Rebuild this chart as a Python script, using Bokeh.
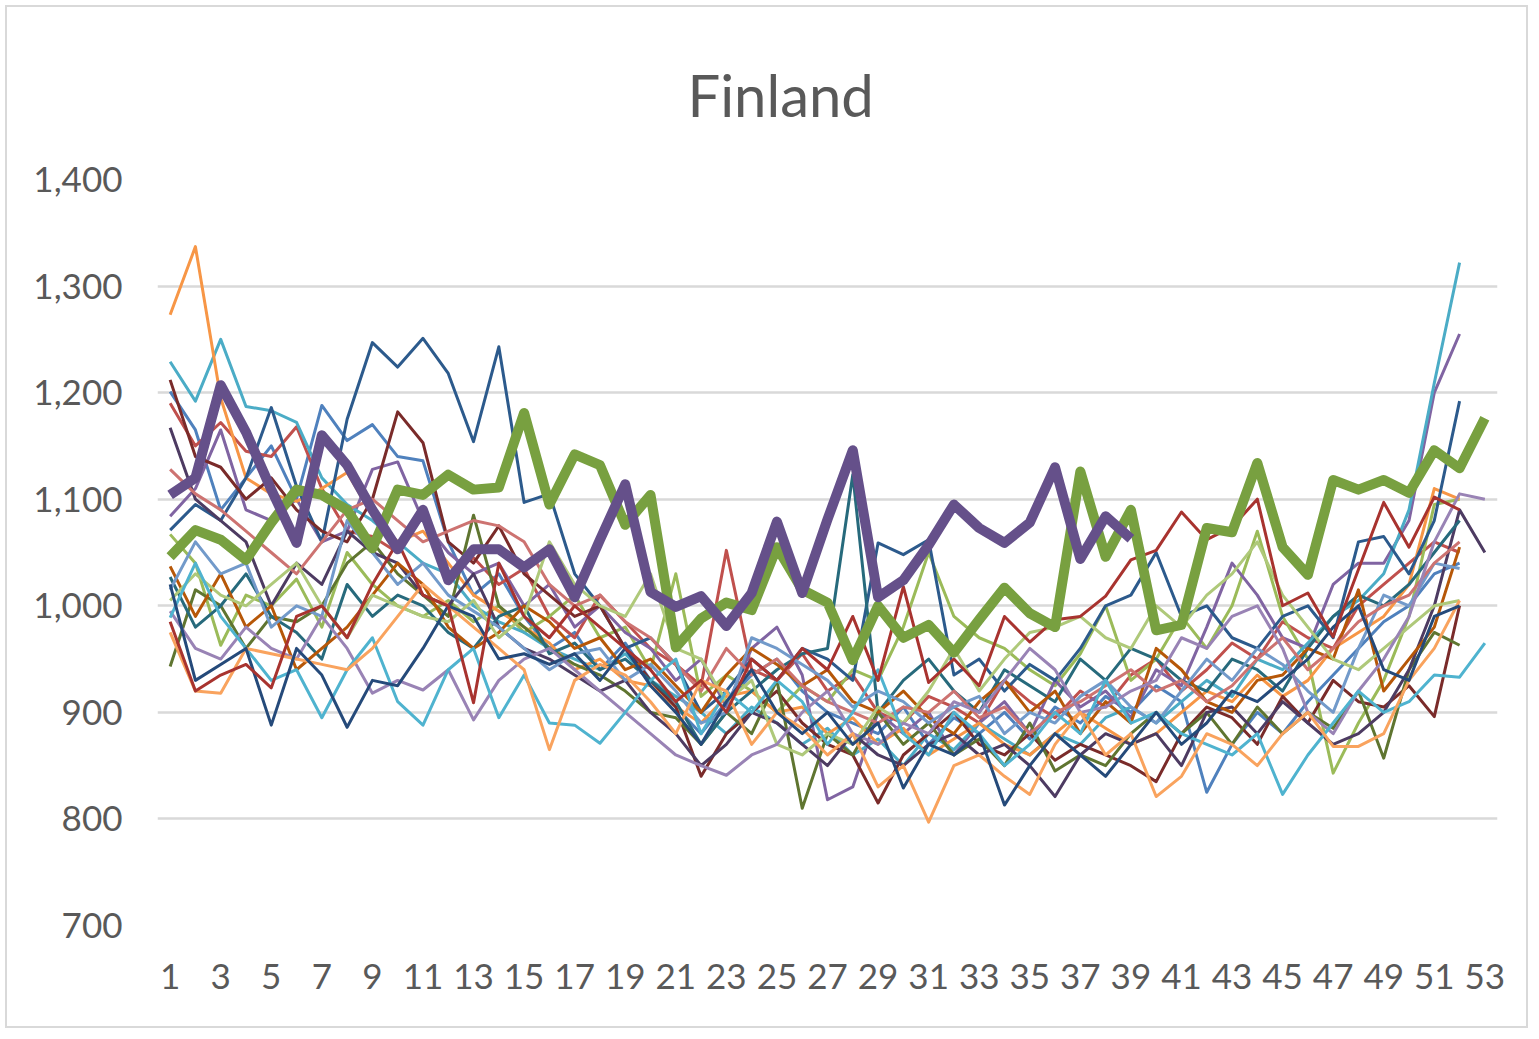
from bokeh.plotting import figure
from bokeh.models import Range1d, FixedTicker, NumeralTickFormatter, ColumnDataSource
from bokeh.embed import file_html
from bokeh.resources import INLINE

title_text = "Finland"
y_ticks = [700, 800, 900, 1000, 1100, 1200, 1300, 1400]
x_ticks = list(range(1, 54, 2))

# Thin lines: one per year (weekly deaths)
s01 = [1201, 1165, 1090, 1120, 1150, 1100, 1188, 1155, 1170, 1140, 1136, 1060, 1010,
       1030, 990, 960, 975, 940, 965, 930, 905, 880, 910, 935, 950, 920,
       900, 890, 880, 905, 870, 895, 880, 900, 875, 905, 890, 915, 900,
       925, 910, 825, 870, 900, 880, 910, 935, 960, 985, 1000, 1030, 1040]
s02 = [1190, 1150, 1172, 1145, 1140, 1168, 1110, 1070, 1065, 1050, 1090, 1030, 1045,
       1020, 1035, 990, 970, 1010, 985, 960, 945, 925, 1052, 940, 930, 955,
       920, 935, 900, 890, 915, 905, 890, 930, 910, 895, 920, 905, 935,
       950, 920, 940, 965, 950, 985, 970, 960, 1000, 1020, 1040, 1060, 1050]
s03 = [1067, 1040, 963, 1010, 1000, 1025, 980, 1050, 1020, 1000, 990, 1005, 985,
       1000, 975, 990, 1010, 970, 980, 940, 1030, 915, 935, 920, 900, 925,
       910, 940, 930, 980, 1050, 990, 970, 960, 940, 925, 955, 1000, 930,
       950, 990, 960, 1000, 1070, 990, 950, 843, 890, 930, 990, 1095, 1100]
s04 = [1084, 1110, 1165, 1090, 1080, 1100, 1060, 1070, 1128, 1135, 1080, 1050, 1030,
       1040, 1000, 1020, 980, 1000, 975, 960, 930, 950, 905, 960, 980, 935,
       818, 830, 900, 880, 900, 860, 890, 910, 880, 930, 905, 920, 895,
       940, 925, 980, 1040, 1010, 970, 960, 1020, 1040, 1040, 1080, 1200, 1255]
s05 = [1229, 1192, 1250, 1187, 1183, 1172, 1120, 1095, 1080, 1060, 1040, 1030, 1000,
       985, 975, 960, 950, 940, 955, 930, 915, 900, 880, 905, 890, 870,
       885, 860, 875, 850, 880, 865, 890, 875, 860, 880, 870, 895, 905,
       890, 910, 930, 915, 950, 940, 965, 990, 1005, 1030, 1090, 1209, 1322]
s06 = [1273, 1337, 1195, 1120, 1105, 1098, 1110, 1125, 1085, 1060, 1070, 1040, 1010,
       995, 980, 965, 940, 950, 930, 925, 905, 890, 915, 920, 900, 905,
       880, 895, 870, 885, 860, 875, 890, 870, 860, 880, 900, 885, 870,
       880, 900, 920, 910, 935, 915, 930, 960, 975, 990, 1020, 1110, 1100]
s07 = [1071, 1095, 1080, 1120, 1186, 1112, 1060, 1175, 1247, 1224, 1251, 1218, 1154,
       1243, 1097, 1105, 1030, 1000, 960, 970, 945, 900, 920, 950, 930, 960,
       950, 930, 1059, 1048, 1062, 935, 950, 920, 945, 930, 960, 1000, 1010,
       1050, 990, 1000, 970, 960, 990, 1000, 970, 1060, 1065, 1030, 1080, 1192]
s08 = [1212, 1140, 1130, 1100, 1120, 1090, 1070, 1060, 1100, 1182, 1153, 1060, 1040,
       1075, 1030, 1010, 990, 1000, 960, 930, 905, 840, 880, 900, 920, 890,
       870, 860, 815, 860, 880, 900, 870, 860, 880, 855, 870, 860, 850,
       835, 880, 905, 895, 870, 915, 890, 930, 910, 905, 925, 896, 1000]
s09 = [943, 1015, 1000, 960, 990, 985, 1000, 1040, 1060, 1030, 1010, 990, 1085,
       1000, 980, 960, 945, 935, 920, 900, 895, 870, 900, 880, 930, 810,
       880, 860, 900, 870, 890, 860, 875, 850, 890, 845, 860, 850, 880,
       900, 880, 900, 870, 905, 880, 900, 885, 920, 857, 940, 975, 963]
s10 = [1167, 1100, 1080, 1060, 1000, 1040, 1020, 1070, 1050, 1040, 1010, 1000, 1030,
       980, 960, 950, 935, 920, 930, 900, 880, 850, 870, 900, 890, 870,
       850, 880, 860, 850, 870, 880, 860, 870, 850, 821, 860, 880, 870,
       880, 850, 900, 905, 880, 910, 890, 870, 880, 900, 940, 1000, 1090, 1050]
s11 = [1027, 980, 1000, 1030, 990, 975, 950, 1020, 990, 1010, 1000, 975, 960,
       990, 1000, 955, 965, 940, 950, 930, 910, 870, 900, 920, 940, 955,
       960, 1123, 900, 930, 950, 920, 900, 940, 925, 910, 950, 930, 960,
       950, 930, 920, 950, 940, 920, 960, 990, 1010, 1000, 1020, 1050, 1080]
s12 = [1037, 990, 1030, 980, 1000, 940, 960, 980, 1010, 1040, 1020, 980, 960,
       975, 1000, 985, 960, 970, 940, 950, 925, 900, 935, 960, 945, 925,
       940, 910, 900, 920, 895, 880, 910, 930, 900, 920, 880, 910, 890,
       960, 940, 910, 900, 930, 935, 960, 950, 1015, 920, 950, 980, 1055]
s13 = [1015, 1060, 1030, 1040, 980, 1000, 990, 1080, 1050, 1020, 1040, 1010, 995,
       980, 960, 940, 955, 960, 930, 945, 920, 890, 900, 970, 960, 945,
       930, 905, 920, 910, 890, 905, 915, 880, 900, 890, 915, 930, 905,
       890, 920, 950, 930, 960, 945, 920, 900, 960, 1010, 1000, 1040, 1035]
s14 = [1128, 1105, 1090, 1070, 1050, 1030, 1060, 1090, 1100, 1080, 1060, 1070, 1080,
       1075, 1060, 1020, 1000, 1010, 985, 970, 945, 920, 960, 935, 950, 925,
       910, 900, 890, 905, 900, 920, 895, 905, 880, 900, 910, 925, 940,
       920, 930, 910, 925, 950, 970, 940, 960, 985, 1000, 1010, 1040, 1060]
s15 = [1005, 1030, 1010, 1000, 1020, 1040, 1000, 970, 1010, 1000, 990, 985, 1005,
       970, 990, 1060, 1020, 1000, 990, 1030, 960, 950, 910, 930, 870, 860,
       880, 870, 905, 890, 920, 960, 920, 950, 975, 980, 990, 970, 960,
       1000, 980, 1010, 1030, 1060, 1010, 980, 950, 940, 960, 980, 1000, 1005]
s16 = [995, 960, 950, 980, 960, 950, 990, 960, 918, 930, 921, 940, 893,
       930, 950, 960, 940, 920, 900, 880, 860, 850, 841, 860, 870, 900,
       920, 880, 870, 890, 880, 910, 900, 930, 960, 940, 900, 905, 920,
       930, 970, 960, 990, 1000, 960, 900, 880, 920, 950, 990, 1060, 1105, 1100]
s17 = [989, 1040, 990, 960, 930, 940, 895, 940, 970, 910, 888, 940, 960,
       895, 935, 890, 888, 871, 900, 930, 950, 880, 920, 900, 930, 910,
       870, 900, 940, 880, 860, 900, 880, 850, 870, 900, 880, 930, 890,
       900, 880, 870, 860, 880, 823, 860, 890, 920, 900, 910, 935, 933, 965]
s18 = [975, 920, 918, 960, 955, 950, 945, 940, 960, 990, 1020, 1000, 980,
       960, 940, 865, 930, 945, 935, 910, 880, 930, 920, 870, 900, 885,
       860, 880, 830, 850, 797, 850, 860, 840, 823, 870, 900, 860, 880,
       821, 840, 880, 870, 850, 880, 900, 868, 868, 880, 930, 960, 1005]
s19 = [1020, 930, 945, 960, 888, 960, 935, 886, 930, 925, 960, 1000, 990,
       950, 955, 945, 955, 930, 960, 925, 900, 870, 910, 940, 900, 880,
       900, 870, 890, 829, 870, 860, 880, 813, 850, 880, 860, 840, 870,
       900, 870, 890, 920, 910, 930, 950, 980, 1000, 940, 930, 990, 1000]
s20 = [985, 920, 935, 945, 923, 990, 1000, 970, 1020, 1060, 1010, 1000, 909,
       1040, 990, 970, 1000, 980, 960, 940, 910, 930, 900, 950, 930, 960,
       940, 990, 930, 1018, 928, 950, 925, 990, 966, 987, 990, 1009, 1043,
       1052, 1088, 1062, 1074, 1100, 1000, 1012, 971, 1034, 1097, 1055, 1102, 1090]

# Highlighted years
green_year = [1046, 1071, 1062, 1043, 1078, 1109, 1104, 1090, 1054, 1109, 1104, 1123, 1109,
              1111, 1181, 1095, 1142, 1132, 1076, 1104, 961, 988, 1003, 996, 1055, 1015,
              1003, 949, 1000, 970, 982, 956, 987, 1017, 993, 980, 1126, 1046, 1090,
              977, 982, 1073, 1069, 1134, 1055, 1029, 1118, 1109, 1118, 1106, 1146, 1129, 1176]
purple_year = [1104, 1120, 1207, 1163, 1109, 1059, 1160, 1132, 1090, 1053, 1090, 1024, 1053,
               1053, 1036, 1053, 1008, 1062, 1114, 1013, 999, 1009, 981, 1012, 1079, 1012,
               1081, 1146, 1008, 1024, 1057, 1095, 1073, 1059, 1078, 1130, 1044, 1084, 1063]

thin_series = [s01, s02, s03, s04, s05, s06, s07, s08, s09, s10,
               s11, s12, s13, s14, s15, s16, s17, s18, s19, s20]
thin_colors = ["#4F81BD", "#C0504D", "#9BBB59", "#8064A2", "#4BACC6", "#F79646",
               "#2C5A8C", "#7A2B2A", "#5F7530", "#4D3B62", "#276A7C", "#B65708",
               "#729ACA", "#CD7371", "#AFC97A", "#9983B5", "#4FB3CF", "#F9A35E",
               "#254A7A", "#A8332F"]

p = figure(width=1523, height=1023, output_backend="svg", toolbar_location=None,
           x_range=Range1d(0.5, 53.5), y_range=Range1d(700, 1400),
           min_border_left=150, min_border_right=33, min_border_top=172, min_border_bottom=105,
           title=title_text)

p.title.align = "left"
p.title.text_font = "Lato"
p.title.text_font_size = "58px"
p.title.text_font_style = "normal"
p.title.text_color = "#595959"
p.title.standoff = 101
p.title.offset = 530

p.outline_line_color = None
p.background_fill_color = "white"
p.border_fill_color = "white"
p.styles = {"border": "2px solid #D9D9D9", "margin-left": "5px", "margin-top": "5px"}

p.xgrid.grid_line_color = None
p.ygrid.grid_line_color = "#D9D9D9"
p.ygrid.grid_line_width = 2.5

for ax in (p.xaxis[0], p.yaxis[0]):
    ax.axis_line_color = None
    ax.major_tick_line_color = None
    ax.minor_tick_line_color = None
    ax.major_label_text_font = "Lato"
    ax.major_label_text_font_size = "35px"
    ax.major_label_text_color = "#595959"

p.xaxis[0].ticker = FixedTicker(ticks=x_ticks)
p.xaxis[0].major_label_standoff = 32
p.yaxis[0].ticker = FixedTicker(ticks=y_ticks)
p.yaxis[0].formatter = NumeralTickFormatter(format="0,0")
p.yaxis[0].major_label_standoff = 29

for vals, col in zip(thin_series, thin_colors):
    weeks = list(range(1, len(vals) + 1))
    src = ColumnDataSource(dict(week=weeks, deaths=vals))
    p.line("week", "deaths", source=src, line_color=col, line_width=3, line_join="round")

gsrc = ColumnDataSource(dict(week=list(range(1, len(green_year) + 1)), deaths=green_year))
p.line("week", "deaths", source=gsrc, line_color="#78A040", line_width=10, line_join="round")
psrc = ColumnDataSource(dict(week=list(range(1, len(purple_year) + 1)), deaths=purple_year))
p.line("week", "deaths", source=psrc, line_color="#65508A", line_width=10, line_join="round")

open("out.html", "w").write(file_html(p, INLINE))
